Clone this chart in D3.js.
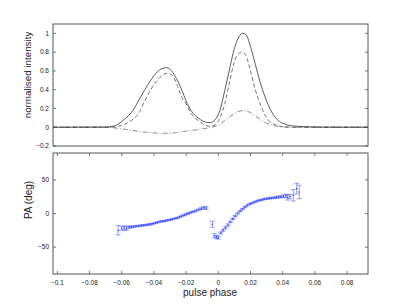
<!DOCTYPE html>
<html>
<head>
<meta charset="utf-8">
<script src="https://d3js.org/d3.v7.min.js"></script>
<style>
body { margin: 0; background: #fff; }
text { font-family: "Liberation Sans", Arial, Helvetica, sans-serif; fill: #222; }
</style>
</head>
<body>
<div id="chart"></div>
<script>
// profile samples (pulse phase) and the three curves
var phase = [-0.1027, -0.07, -0.065, -0.062, -0.059, -0.056, -0.053, -0.049, -0.046, -0.042, -0.038, -0.035, -0.032, -0.029, -0.026, -0.023, -0.020, -0.017, -0.014, -0.011, -0.008, -0.005, -0.002, 0.001, 0.004, 0.007, 0.010, 0.013, 0.015, 0.017, 0.020, 0.023, 0.026, 0.029, 0.032, 0.035, 0.038, 0.041, 0.044, 0.048, 0.055, 0.065, 0.093];
var totalI = [0, 0.002, 0.012, 0.035, 0.075, 0.12, 0.18, 0.30, 0.39, 0.50, 0.59, 0.625, 0.635, 0.60, 0.52, 0.41, 0.28, 0.18, 0.12, 0.08, 0.055, 0.05, 0.08, 0.18, 0.39, 0.62, 0.84, 0.97, 1.0, 0.99, 0.86, 0.67, 0.48, 0.325, 0.20, 0.115, 0.06, 0.035, 0.02, 0.012, 0.005, 0.001, 0];
var linearL = [0, 0, 0.003, 0.01, 0.025, 0.05, 0.085, 0.16, 0.27, 0.40, 0.50, 0.55, 0.575, 0.56, 0.47, 0.33, 0.25, 0.15, 0.09, 0.055, 0.02, 0.01, 0.025, 0.10, 0.25, 0.48, 0.70, 0.79, 0.80, 0.77, 0.60, 0.40, 0.25, 0.13, 0.06, 0.03, 0.012, 0.005, 0.002, 0, 0, 0, 0];
var circV = [0, 0, -0.005, -0.012, -0.02, -0.027, -0.035, -0.045, -0.052, -0.058, -0.062, -0.064, -0.064, -0.062, -0.057, -0.05, -0.042, -0.035, -0.028, -0.02, -0.012, -0.004, 0.01, 0.03, 0.075, 0.11, 0.145, 0.17, 0.178, 0.175, 0.155, 0.12, 0.085, 0.05, 0.03, 0.015, 0.005, 0.002, 0, 0, 0, 0, 0];

// position angle points
var paPhase = [-0.0622, -0.0600, -0.0585, -0.0570, -0.0555, -0.0540, -0.0525, -0.0510, -0.0495, -0.0480, -0.0465, -0.0450, -0.0435, -0.0420, -0.0405, -0.0390, -0.0375, -0.0360, -0.0345, -0.0330, -0.0315, -0.0300, -0.0285, -0.0270, -0.0255, -0.0240, -0.0225, -0.0210, -0.0195, -0.0180, -0.0165, -0.0150, -0.0135, -0.0120, -0.0105, -0.0090, -0.0075,
  -0.0037, -0.0025, -0.0012, 0.0000,
  0.0015, 0.0030, 0.0045, 0.0060, 0.0075, 0.0090, 0.0105, 0.0120, 0.0135, 0.0150, 0.0165, 0.0180, 0.0195, 0.0210, 0.0225, 0.0240, 0.0255, 0.0270, 0.0285, 0.0300, 0.0315, 0.0330, 0.0345, 0.0360, 0.0375, 0.0390, 0.0405, 0.0420, 0.0431, 0.0445, 0.0466, 0.0487, 0.0503];
var paDeg = [-25, -22, -21.5, -22, -20.5, -20, -19.5, -19, -18.5, -18, -17.5, -17, -16.5, -16, -15, -14, -13, -12, -11.5, -11, -10, -9.5, -8.5, -7.5, -6.5, -5, -3.5, -2, -0.5, 0.5, 2, 3, 4.5, 6, 7.5, 8.5, 8,
  -16, -33, -35, -36,
  -29, -25, -21, -17, -12.5, -8, -4, 0, 3.5, 6.5, 9.5, 12, 14, 15.5, 17, 18.5, 19.5, 20.5, 21.5, 22, 22.5, 23, 23.5, 24, 24.5, 25, 25.5, 26, 24, 25, 27, 37, 32];
var paErr = [7, 3, 3, 3, 1.5, 1.5, 1, 1, 1, 1, 1, 1, 1, 1, 1, 1, 1, 1, 1, 1, 1, 1, 1, 1, 1, 1, 1, 1, 1, 1, 1, 1, 1, 1, 1.5, 2, 2,
  4.5, 3, 2.5, 2,
  1.5, 1.5, 1.5, 1.5, 1, 1, 1, 1, 1, 1, 1, 1, 1, 1, 1, 1, 1, 1, 1, 1, 1, 1, 1, 1.5, 1.5, 1.5, 2, 2.5, 4, 3, 8.5, 8, 10];

var xTicks = [-0.1, -0.08, -0.06, -0.04, -0.02, 0, 0.02, 0.04, 0.06, 0.08];
var iTicks = [-0.2, 0, 0.2, 0.4, 0.6, 0.8, 1];
var paTicks = [-50, 0, 50];

var width = 407, height = 306;
var left = 53, right = 368;
var topBox = {y0: 24, y1: 146};
var botBox = {y0: 153, y1: 274};
var axisColor = "#555";
var tickLen = 3;

var svg = d3.select("#chart")
            .append("svg")
            .attr("width", width)
            .attr("height", height);

var x = d3.scaleLinear().domain([-0.1027, 0.093]).range([left, right]);
var yI = d3.scaleLinear().domain([-0.2, 1.1]).range([topBox.y1, topBox.y0]);
var yPA = d3.scaleLinear().domain([-90, 90]).range([botBox.y1, botBox.y0]);

function fmt(v) {
  if (v == 0) return "0";
  var s = String(+v.toFixed(2));
  return s.replace("-", "\u2212");
}

// --- top panel: profiles ---
var prof = phase.map(function(p, i) { return {p: p, I: totalI[i], L: linearL[i], V: circV[i]}; });

function curve(key) {
  return d3.line()
    .x(function(d) { return x(d.p); })
    .y(function(d) { return yI(d[key]); })
    .curve(d3.curveMonotoneX);
}

svg.append("path").datum(prof)
   .attr("d", curve("V"))
   .attr("fill", "none").attr("stroke", "#555").attr("stroke-width", 0.7)
   .attr("stroke-dasharray", "5,2,1,2");
svg.append("path").datum(prof)
   .attr("d", curve("L"))
   .attr("fill", "none").attr("stroke", "#444").attr("stroke-width", 0.75)
   .attr("stroke-dasharray", "4,2.5");
svg.append("path").datum(prof)
   .attr("d", curve("I"))
   .attr("fill", "none").attr("stroke", "#333").attr("stroke-width", 0.8);

// top box + ticks
var gTop = svg.append("g");
gTop.append("rect")
    .attr("x", left).attr("y", topBox.y0)
    .attr("width", right - left).attr("height", topBox.y1 - topBox.y0)
    .attr("fill", "none").attr("stroke", axisColor).attr("stroke-width", 1);

iTicks.forEach(function(t) {
  var yy = yI(t);
  gTop.append("line").attr("x1", left).attr("x2", left + tickLen).attr("y1", yy).attr("y2", yy)
      .attr("stroke", axisColor).attr("stroke-width", 0.8);
  gTop.append("line").attr("x1", right).attr("x2", right - tickLen).attr("y1", yy).attr("y2", yy)
      .attr("stroke", axisColor).attr("stroke-width", 0.8);
  gTop.append("text").attr("x", left - 4).attr("y", yy).attr("dy", "0.35em")
      .attr("text-anchor", "end").attr("font-size", 6.5).text(fmt(t));
});

svg.append("text")
   .attr("transform", "translate(31,75) rotate(-90)")
   .attr("text-anchor", "middle")
   .attr("font-size", 9.8)
   .text("normalised intensity");

// --- bottom panel: position angle ---
var pa = paPhase.map(function(p, i) { return {p: p, v: paDeg[i], e: paErr[i]}; });
var blue = "#2f45ff";
var cap = 2.5;

var gPA = svg.append("g");
var bars = gPA.selectAll("g.bar").data(pa).enter().append("g").attr("class", "bar");
bars.append("line")
    .attr("x1", function(d) { return x(d.p); }).attr("x2", function(d) { return x(d.p); })
    .attr("y1", function(d) { return yPA(d.v - d.e); }).attr("y2", function(d) { return yPA(d.v + d.e); })
    .attr("stroke", blue).attr("stroke-width", 0.5);
bars.append("line")
    .attr("x1", function(d) { return x(d.p) - cap; }).attr("x2", function(d) { return x(d.p) + cap; })
    .attr("y1", function(d) { return yPA(d.v - d.e); }).attr("y2", function(d) { return yPA(d.v - d.e); })
    .attr("stroke", blue).attr("stroke-width", 0.5);
bars.append("line")
    .attr("x1", function(d) { return x(d.p) - cap; }).attr("x2", function(d) { return x(d.p) + cap; })
    .attr("y1", function(d) { return yPA(d.v + d.e); }).attr("y2", function(d) { return yPA(d.v + d.e); })
    .attr("stroke", blue).attr("stroke-width", 0.5);
bars.append("circle")
    .attr("cx", function(d) { return x(d.p); })
    .attr("cy", function(d) { return yPA(d.v); })
    .attr("r", 0.8).attr("fill", blue);

var gBot = svg.append("g");
gBot.append("rect")
    .attr("x", left).attr("y", botBox.y0)
    .attr("width", right - left).attr("height", botBox.y1 - botBox.y0)
    .attr("fill", "none").attr("stroke", axisColor).attr("stroke-width", 1);

paTicks.forEach(function(t) {
  var yy = yPA(t);
  gBot.append("line").attr("x1", left).attr("x2", left + tickLen).attr("y1", yy).attr("y2", yy)
      .attr("stroke", axisColor).attr("stroke-width", 0.8);
  gBot.append("line").attr("x1", right).attr("x2", right - tickLen).attr("y1", yy).attr("y2", yy)
      .attr("stroke", axisColor).attr("stroke-width", 0.8);
  gBot.append("text").attr("x", left - 4).attr("y", yy).attr("dy", "0.35em")
      .attr("text-anchor", "end").attr("font-size", 6.5).text(fmt(t));
});

xTicks.forEach(function(t) {
  var xx = x(t);
  gBot.append("line").attr("x1", xx).attr("x2", xx).attr("y1", botBox.y1).attr("y2", botBox.y1 - tickLen)
      .attr("stroke", axisColor).attr("stroke-width", 0.8);
  gBot.append("line").attr("x1", xx).attr("x2", xx).attr("y1", botBox.y0).attr("y2", botBox.y0 + tickLen)
      .attr("stroke", axisColor).attr("stroke-width", 0.8);
  gBot.append("text").attr("x", xx).attr("y", 284.5)
      .attr("text-anchor", "middle").attr("font-size", 6.5).text(fmt(t));
});

svg.append("text")
   .attr("transform", "translate(32,200) rotate(-90)")
   .attr("text-anchor", "middle")
   .attr("font-size", 10)
   .text("PA (deg)");

svg.append("text")
   .attr("x", 210).attr("y", 296)
   .attr("text-anchor", "middle")
   .attr("font-size", 10)
   .text("pulse phase");
</script>
</body>
</html>
